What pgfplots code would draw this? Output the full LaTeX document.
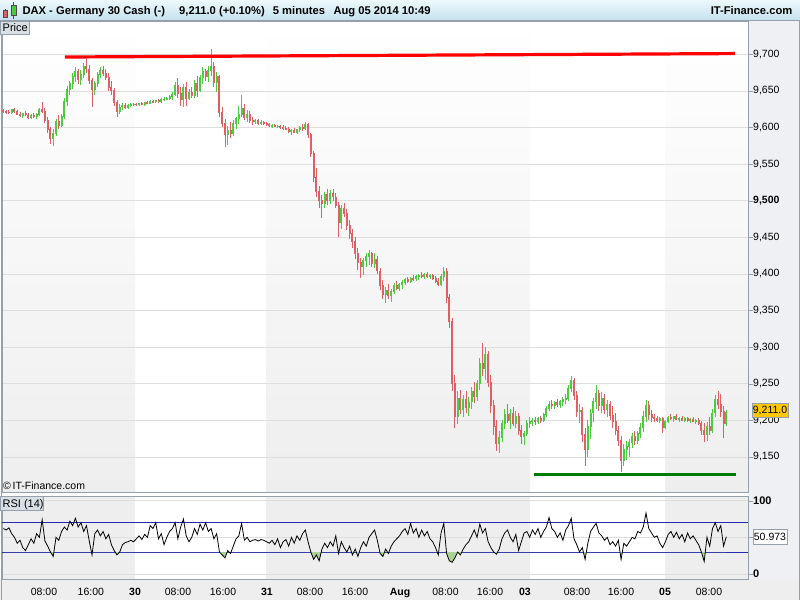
\documentclass[border=0pt]{standalone}
\usepackage{pgfplots}
\pgfplotsset{compat=1.18}
\usepackage{pgfplotstable}
\usepackage{fontspec}
\setmainfont{Liberation Sans}

\definecolor{upc}{RGB}{76,204,60}
\definecolor{dnc}{RGB}{222,96,96}
\definecolor{framec}{RGB}{150,160,170}
\definecolor{gridc}{RGB}{222,222,222}
\definecolor{sidec}{RGB}{238,240,243}
\definecolor{shadec}{RGB}{238,238,238}
\definecolor{bartop}{RGB}{236,248,252}
\definecolor{barbot}{RGB}{198,226,238}
\definecolor{boxc}{RGB}{216,224,230}
\definecolor{levc}{RGB}{40,40,175}
\definecolor{supc}{RGB}{0,125,0}
\definecolor{lastc}{RGB}{255,200,0}
\definecolor{rsifill}{RGB}{170,210,150}

% 30-minute candles, Jul 29 - Aug 05 2014
\pgfplotstableread[row sep=\\]{
o h l c\\
9623 9625 9620 9622\\ 9622 9624 9619 9621\\ 9621 9624 9618 9620\\ 9620 9625 9618 9624\\
9624 9626 9620 9622\\ 9622 9624 9617 9618\\ 9618 9621 9614 9616\\ 9616 9620 9613 9619\\
9619 9622 9616 9617\\ 9617 9620 9612 9614\\ 9614 9618 9612 9617\\ 9617 9620 9613 9615\\
9615 9620 9612 9618\\ 9618 9626 9616 9624\\ 9624 9635 9620 9622\\ 9622 9626 9606 9610\\
9610 9614 9592 9597\\ 9597 9600 9578 9585\\ 9585 9598 9575 9592\\ 9592 9612 9588 9608\\
9608 9617 9598 9602\\ 9602 9618 9600 9615\\ 9615 9640 9612 9636\\ 9636 9657 9630 9652\\
9652 9664 9645 9660\\ 9660 9675 9652 9670\\ 9670 9682 9662 9676\\ 9676 9680 9660 9665\\
9665 9678 9658 9672\\ 9672 9688 9668 9684\\ 9684 9696 9675 9680\\ 9680 9686 9660 9664\\
9664 9668 9628 9652\\ 9652 9664 9645 9660\\ 9660 9676 9655 9672\\ 9672 9683 9668 9678\\
9678 9684 9670 9674\\ 9674 9680 9665 9668\\ 9668 9675 9650 9655\\ 9655 9664 9645 9650\\
9650 9654 9630 9634\\ 9634 9638 9614 9622\\ 9622 9632 9618 9628\\ 9628 9633 9624 9630\\
9630 9634 9625 9627\\ 9627 9632 9625 9630\\ 9630 9633 9628 9631\\ 9631 9634 9629 9632\\
9632 9634 9629 9631\\ 9631 9634 9630 9633\\ 9633 9635 9631 9632\\ 9632 9634 9630 9634\\
9634 9636 9632 9633\\ 9633 9637 9632 9636\\ 9636 9638 9634 9635\\ 9635 9638 9633 9637\\
9637 9639 9634 9636\\ 9636 9640 9634 9638\\ 9638 9641 9636 9639\\ 9639 9642 9637 9640\\
9640 9644 9637 9642\\ 9642 9648 9638 9645\\ 9645 9662 9643 9658\\ 9658 9668 9640 9646\\
9646 9655 9630 9638\\ 9638 9660 9628 9655\\ 9655 9662 9630 9640\\ 9640 9652 9638 9648\\
9648 9655 9640 9644\\ 9644 9665 9640 9660\\ 9660 9670 9642 9650\\ 9650 9672 9648 9668\\
9668 9682 9660 9676\\ 9676 9680 9664 9670\\ 9670 9684 9662 9678\\ 9678 9707 9670 9684\\
9684 9690 9655 9662\\ 9662 9676 9648 9670\\ 9670 9672 9615 9620\\ 9620 9628 9600 9605\\
9605 9612 9574 9590\\ 9590 9602 9576 9596\\ 9596 9608 9585 9592\\ 9592 9610 9588 9605\\
9605 9615 9598 9612\\ 9612 9630 9605 9618\\ 9618 9644 9614 9626\\ 9626 9632 9610 9614\\
9614 9624 9608 9618\\ 9618 9622 9606 9610\\ 9610 9614 9604 9608\\ 9608 9612 9605 9609\\
9609 9611 9604 9606\\ 9606 9610 9604 9607\\ 9607 9609 9603 9605\\ 9605 9608 9602 9604\\
9604 9606 9600 9602\\ 9602 9605 9599 9603\\ 9603 9605 9600 9601\\ 9601 9604 9599 9602\\
9602 9604 9598 9600\\ 9600 9603 9597 9599\\ 9599 9602 9596 9598\\ 9598 9600 9592 9594\\
9594 9598 9590 9596\\ 9596 9599 9592 9593\\ 9593 9598 9591 9597\\ 9597 9602 9594 9600\\
9600 9605 9595 9598\\ 9598 9608 9596 9604\\ 9604 9606 9586 9590\\ 9590 9592 9560 9565\\
9565 9568 9525 9532\\ 9532 9545 9505 9512\\ 9512 9520 9490 9500\\ 9500 9508 9476 9496\\
9496 9512 9490 9508\\ 9508 9516 9494 9500\\ 9500 9514 9495 9510\\ 9510 9516 9500 9505\\
9505 9510 9490 9494\\ 9494 9498 9450 9470\\ 9470 9494 9462 9490\\ 9490 9497 9478 9482\\
9482 9488 9460 9466\\ 9466 9474 9448 9455\\ 9455 9462 9436 9444\\ 9444 9450 9420 9428\\
9428 9436 9405 9415\\ 9415 9422 9395 9410\\ 9410 9422 9398 9418\\ 9418 9428 9410 9424\\
9424 9432 9412 9428\\ 9428 9430 9410 9414\\ 9414 9428 9408 9420\\ 9420 9424 9400 9404\\
9404 9408 9378 9384\\ 9384 9392 9366 9372\\ 9372 9382 9360 9378\\ 9378 9386 9365 9370\\
9370 9380 9362 9376\\ 9376 9388 9372 9384\\ 9384 9390 9378 9380\\ 9380 9388 9376 9386\\
9386 9392 9380 9388\\ 9388 9395 9385 9392\\ 9392 9396 9388 9390\\ 9390 9396 9387 9394\\
9394 9398 9390 9393\\ 9393 9398 9390 9396\\ 9396 9400 9392 9398\\ 9398 9402 9394 9396\\
9396 9401 9393 9399\\ 9399 9402 9395 9397\\ 9397 9400 9393 9398\\ 9398 9400 9392 9394\\
9394 9397 9388 9390\\ 9390 9394 9384 9386\\ 9386 9400 9383 9396\\ 9396 9410 9390 9404\\
9404 9408 9360 9368\\ 9368 9372 9326 9335\\ 9335 9340 9240 9250\\ 9250 9262 9190 9205\\
9205 9240 9195 9230\\ 9230 9242 9208 9215\\ 9215 9235 9205 9228\\ 9228 9240 9210 9218\\
9218 9232 9206 9225\\ 9225 9245 9215 9240\\ 9240 9252 9224 9232\\ 9232 9255 9226 9250\\
9250 9285 9242 9278\\ 9278 9306 9260 9270\\ 9270 9300 9255 9290\\ 9290 9295 9245 9252\\
9252 9262 9210 9220\\ 9220 9228 9180 9192\\ 9192 9200 9158 9168\\ 9168 9185 9155 9176\\
9176 9200 9170 9195\\ 9195 9215 9188 9208\\ 9208 9222 9196 9200\\ 9200 9215 9188 9210\\
9210 9218 9192 9196\\ 9196 9212 9190 9205\\ 9205 9210 9180 9186\\ 9186 9194 9168 9178\\
9178 9186 9166 9182\\ 9182 9200 9178 9196\\ 9196 9204 9190 9198\\ 9198 9203 9192 9200\\
9200 9205 9194 9198\\ 9198 9204 9195 9202\\ 9202 9206 9196 9200\\ 9200 9210 9198 9208\\
9208 9220 9205 9216\\ 9216 9226 9212 9222\\ 9222 9228 9216 9220\\ 9220 9226 9215 9224\\
9224 9229 9218 9222\\ 9222 9228 9217 9226\\ 9226 9232 9220 9228\\ 9228 9236 9222 9230\\
9230 9248 9226 9244\\ 9244 9260 9238 9254\\ 9254 9258 9228 9234\\ 9234 9240 9205 9212\\
9212 9222 9196 9214\\ 9214 9218 9170 9180\\ 9180 9190 9138 9160\\ 9160 9200 9150 9192\\
9192 9216 9175 9210\\ 9210 9230 9198 9226\\ 9226 9248 9215 9236\\ 9236 9242 9212 9220\\
9220 9238 9210 9230\\ 9230 9236 9208 9214\\ 9214 9228 9205 9222\\ 9222 9226 9200 9206\\
9206 9220 9190 9198\\ 9198 9210 9180 9186\\ 9186 9192 9165 9172\\ 9172 9178 9130 9145\\
9145 9168 9138 9160\\ 9160 9172 9146 9164\\ 9164 9175 9150 9170\\ 9170 9182 9162 9178\\
9178 9185 9166 9172\\ 9172 9186 9168 9182\\ 9182 9196 9176 9190\\ 9190 9212 9184 9205\\
9205 9228 9198 9220\\ 9220 9226 9200 9208\\ 9208 9214 9198 9204\\ 9204 9208 9198 9202\\
9202 9206 9197 9199\\ 9199 9205 9196 9203\\ 9203 9205 9183 9190\\ 9190 9200 9188 9198\\
9198 9206 9196 9204\\ 9204 9208 9200 9202\\ 9202 9206 9198 9205\\ 9205 9208 9200 9201\\
9201 9205 9198 9203\\ 9203 9206 9199 9200\\ 9200 9204 9197 9202\\ 9202 9205 9198 9199\\
9199 9203 9196 9201\\ 9201 9204 9197 9198\\ 9198 9202 9195 9200\\ 9200 9203 9194 9196\\
9196 9199 9180 9186\\ 9186 9196 9170 9180\\ 9180 9198 9172 9192\\ 9192 9205 9180 9186\\
9186 9215 9182 9210\\ 9210 9234 9205 9228\\ 9228 9240 9215 9222\\ 9222 9236 9205 9212\\
9212 9220 9176 9196\\ 9196 9214 9192 9211\\
}\candles

% RSI(14), same 30-minute steps
\pgfplotstableread[row sep=\\]{
r\\
62\\ 60\\ 63\\ 55\\ 50\\ 42\\ 46\\ 36\\ 32\\ 40\\ 48\\ 42\\ 55\\ 50\\ 74\\ 45\\ 38\\ 30\\ 24\\ 50\\
46\\ 58\\ 64\\ 60\\ 72\\ 66\\ 76\\ 64\\ 70\\ 58\\ 66\\ 45\\ 26\\ 55\\ 60\\ 52\\ 58\\ 48\\ 54\\ 40\\
32\\ 26\\ 30\\ 40\\ 43\\ 44\\ 46\\ 44\\
48\\ 52\\ 47\\ 54\\ 50\\ 66\\ 62\\ 70\\ 48\\ 55\\ 40\\ 50\\ 58\\ 62\\ 70\\ 48\\ 64\\ 75\\ 52\\ 44\\
50\\ 62\\ 54\\ 68\\ 60\\ 70\\ 58\\ 62\\ 48\\ 55\\ 30\\ 26\\ 22\\ 32\\ 28\\ 38\\ 48\\ 52\\ 69\\ 46\\
50\\ 44\\ 46\\ 47\\ 45\\ 47\\ 46\\ 44\\
42\\ 46\\ 40\\ 48\\ 36\\ 44\\ 47\\ 38\\ 50\\ 42\\ 52\\ 46\\ 55\\ 60\\ 44\\ 30\\ 20\\ 26\\ 18\\ 34\\
42\\ 36\\ 44\\ 38\\ 52\\ 28\\ 44\\ 36\\ 30\\ 38\\ 26\\ 34\\ 24\\ 36\\ 44\\ 38\\ 50\\ 55\\ 60\\ 46\\
28\\ 24\\ 34\\ 28\\ 38\\ 44\\ 48\\ 52\\
58\\ 62\\ 54\\ 69\\ 56\\ 62\\ 50\\ 60\\ 52\\ 58\\ 48\\ 44\\ 36\\ 26\\ 56\\ 69\\ 28\\ 18\\ 16\\ 22\\
30\\ 26\\ 34\\ 40\\ 44\\ 52\\ 60\\ 50\\ 68\\ 56\\ 62\\ 44\\ 36\\ 30\\ 27\\ 34\\ 48\\ 56\\ 60\\ 50\\
44\\ 54\\ 32\\ 44\\ 56\\ 58\\ 50\\ 60\\
54\\ 62\\ 50\\ 58\\ 64\\ 77\\ 62\\ 58\\ 50\\ 56\\ 46\\ 60\\ 66\\ 76\\ 48\\ 40\\ 30\\ 36\\ 20\\ 42\\
58\\ 64\\ 69\\ 56\\ 52\\ 46\\ 50\\ 40\\ 44\\ 38\\ 46\\ 20\\ 42\\ 38\\ 44\\ 50\\ 48\\ 58\\ 56\\ 64\\
83\\ 62\\ 56\\ 50\\ 52\\ 42\\ 36\\ 44\\
54\\ 58\\ 50\\ 57\\ 48\\ 54\\ 44\\ 56\\ 48\\ 52\\ 46\\ 40\\ 30\\ 17\\ 50\\ 38\\ 62\\ 70\\ 58\\ 66\\
38\\ 50.97\\
}\rsi

\pgfplotsset{
  candle/.style n args={3}{draw=none, mark=none, forget plot,
    restrict expr to domain={\thisrow{c}-\thisrow{o}}{#1},
    error bars/.cd, y dir=both, y explicit, error mark=none,
    error bar style={draw=#2, line width=#3}},
}

\begin{document}
\begin{tikzpicture}[x=1pt,y=1pt]
\fill[white] (0,0) rectangle (800,600);
% day shading
\foreach \a/\b in {2/135,266/530,665/748}{
  \shade[top color=white, bottom color=shadec] (\a,108) rectangle (\b,579);
  \fill[shadec] (\a,21) rectangle (\b,104);
}
\fill[sidec] (748,21) rectangle (800,580);
\fill[shadec] (0,0) rectangle (800,21);

% price panel
\begin{axis}[
  at={(2pt,108pt)}, anchor=south west,
  scale only axis, width=746pt, height=471pt,
  xmin=0, xmax=134.66, ymin=9102, ymax=9745.5,
  axis line style={draw=framec},
  xtick=\empty, ytick pos=right,
  ytick={9150,9200,...,9700},
  yticklabels={{9,150},{9,200},{9,250},{9,300},{9,350},{9,400},{9,450},{\textbf{9,500}},{9,550},{9,600},{9,650},{9,700}},
  ymajorgrids, grid style={draw=gridc, line width=0.7pt},
  tick align=outside, major tick length=5pt,
  ytick style={draw=framec},
  yticklabel style={font=\fontsize{10.5}{12}\selectfont, anchor=west, inner sep=0pt},
]
\addplot[candle={0:1000}{upc}{0.9pt}]
  table[x expr=\coordindex*0.5+0.25, y expr=0.5*(\thisrow{h}+\thisrow{l}), y error expr=0.5*(\thisrow{h}-\thisrow{l})] {\candles};
\addplot[candle={-1000:-0.01}{dnc}{0.9pt}]
  table[x expr=\coordindex*0.5+0.25, y expr=0.5*(\thisrow{h}+\thisrow{l}), y error expr=0.5*(\thisrow{h}-\thisrow{l})] {\candles};
\addplot[candle={0:1000}{upc}{2pt}]
  table[x expr=\coordindex*0.5+0.25, y expr=0.5*(\thisrow{o}+\thisrow{c}), y error expr=0.5*abs(\thisrow{c}-\thisrow{o})+0.6] {\candles};
\addplot[candle={-1000:-0.01}{dnc}{2pt}]
  table[x expr=\coordindex*0.5+0.25, y expr=0.5*(\thisrow{o}+\thisrow{c}), y error expr=0.5*abs(\thisrow{c}-\thisrow{o})+0.6] {\candles};
% trend lines
\addplot[red, line width=3.2pt] coordinates {(11.37,9696.3) (132.3,9701)};
\addplot[supc, line width=3.2pt] coordinates {(96.03,9126.4) (132.5,9126.4)};
\end{axis}

% RSI panel
\begin{axis}[
  at={(2pt,21pt)}, anchor=south west,
  scale only axis, width=746pt, height=83pt,
  xmin=0, xmax=134.66, ymin=-6.8, ymax=106.4,
  axis line style={draw=framec},
  ytick pos=right, xtick pos=bottom,
  ytick={0,50,100}, yticklabels={\textbf{0},{},\textbf{100}},
  ymajorgrids, grid style={draw=gridc, line width=0.7pt},
  tick align=outside, major tick length=5pt,
  ytick style={draw=framec},
  yticklabel style={font=\fontsize{11}{13}\selectfont, anchor=west, inner sep=0pt},
  xtick={7.58,16.03,24.01,31.77,39.89,47.83,55.60,63.72,71.84,80.05,88.09,94.40,103.79,111.73,119.68,127.62},
  xticklabels={08:00,16:00,\textbf{30},08:00,16:00,\textbf{31},08:00,16:00,\textbf{Aug},08:00,16:00,\textbf{03},08:00,16:00,\textbf{05},08:00},
  xtick style={draw=none},
  xticklabel style={font=\fontsize{10.5}{12}\selectfont, anchor=base, yshift=-11pt, inner sep=0pt},
]
\addplot[levc, line width=0.9pt] coordinates {(0,70) (134.66,70)};
\addplot[levc, line width=0.9pt] coordinates {(0,30) (134.66,30)};
\begin{scope}
\clip (axis cs:0,-6.8) rectangle (axis cs:134.66,30);
\addplot[fill=rsifill, draw=none] table[x expr=\coordindex*0.5+0.25, y=r] {\rsi} -- (axis cs:130.75,30) -- (axis cs:0.25,30) -- cycle;
\end{scope}
\addplot[black, line width=0.8pt] table[x expr=\coordindex*0.5+0.25, y=r] {\rsi};
\end{axis}

% frames
\draw[framec] (1.5,0) -- (1.5,580);
\draw[framec] (799.5,0) -- (799.5,580);

% title bar
\shade[top color=bartop, bottom color=barbot] (0,580) rectangle (800,600);
\draw[framec] (0,580) -- (800,580);
\draw[black!70] (5.3,582) -- (5.3,591);
\filldraw[fill=dnc, draw=black!70] (3.3,583) rectangle (7.3,590);
\draw[black!70] (13.3,581) -- (13.3,598);
\filldraw[fill=upc, draw=black!70] (11,585) rectangle (15.7,595);
\begin{scope}[every node/.style={anchor=base west, inner sep=0pt, font=\fontsize{11.2}{13}\selectfont\bfseries}]
\node at (22.3,585.5) {DAX - Germany 30 Cash (-)};
\node at (179,585.5) {9,211.0 (+0.10\%)};
\node at (272.7,585.5) {5 minutes};
\node at (333.3,585.5) {Aug 05 2014 10:49};
\node[anchor=base east] at (792.5,585.5) {IT-Finance.com};
\end{scope}

% panel labels
\filldraw[fill=boxc, draw=framec] (0.5,566) rectangle (29,579);
\node[anchor=base west, inner sep=0pt, font=\fontsize{11}{13}\selectfont] at (2.5,568.8) {Price};
\filldraw[fill=boxc, draw=framec] (0.5,90) rectangle (43,104);
\node[anchor=base west, inner sep=0pt, font=\fontsize{11}{13}\selectfont] at (2.5,93) {RSI (14)};
\node[anchor=base west, inner sep=0pt, font=\fontsize{10.5}{12}\selectfont] at (3,110.5) {\textcopyright\,IT-Finance.com};

% last value boxes
\node[draw=framec, fill=lastc, inner sep=1.2pt, minimum height=14pt, anchor=west, font=\fontsize{10.5}{12}\selectfont] at (751.5,189.5) {9,211.0};
\node[draw=framec, fill=white, inner sep=1.2pt, minimum height=15pt, anchor=west, font=\fontsize{10.5}{12}\selectfont] at (752.5,63) {50.973};

\pgfresetboundingbox
\useasboundingbox (0,0) rectangle (800,600);
\end{tikzpicture}
\end{document}
